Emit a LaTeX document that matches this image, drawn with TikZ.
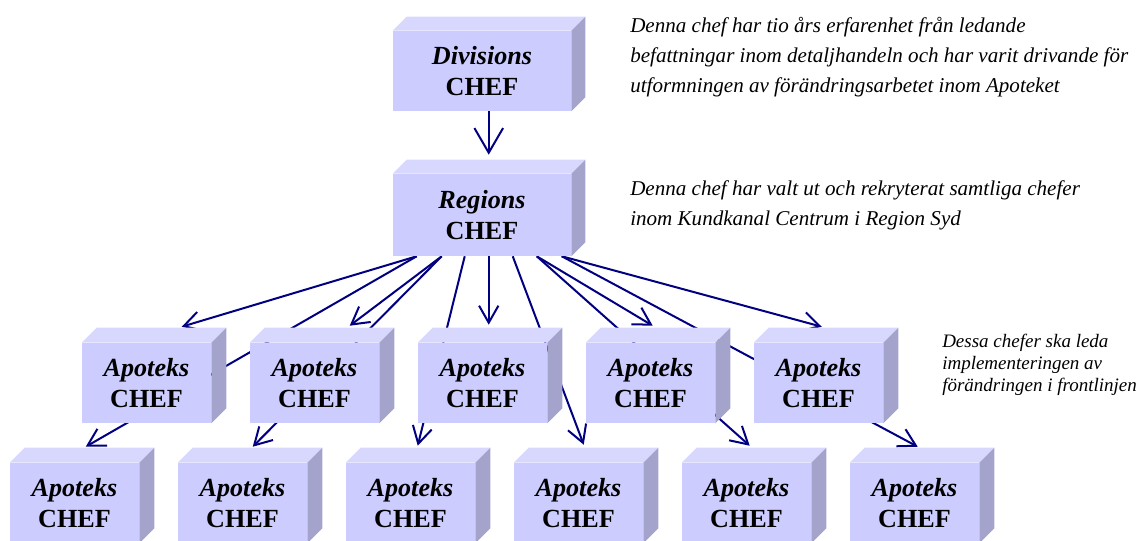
\documentclass[tikz,border=0pt]{standalone}
\usepackage{fontspec}
\setmainfont{Liberation Serif}
\usetikzlibrary{arrows.meta,calc,backgrounds}
\definecolor{frontc}{RGB}{204,204,255}
\definecolor{topc}{RGB}{216,216,255}
\definecolor{sidec}{RGB}{163,163,204}
\definecolor{navyc}{RGB}{0,0,128}
\begin{document}
\begin{tikzpicture}[x=0.75pt,y=-0.75pt,
  cube/.style={fill=frontc, inner sep=0pt, align=center, font=\fontsize{19.6}{23.25}\selectfont\bfseries},
  bigcube/.style={cube, minimum width=133.5pt, minimum height=60pt},
  smallcube/.style={cube, minimum width=96.75pt, minimum height=60pt},
  conn/.style={draw=navyc, line width=1.5pt, -{Straight Barb[length=12.75pt,width=14.5pt]}},
  bigconn/.style={draw=navyc, line width=1.5pt, -{Straight Barb[length=18.5pt,width=21.5pt]}},
  note/.style={anchor=base west, align=left, inner sep=0pt, font=\itshape\fontsize{15.8}{22.5}\selectfont},
  smallnote/.style={anchor=base west, align=left, inner sep=0pt, font=\itshape\fontsize{14.25}{16.5}\selectfont},
]
\useasboundingbox (0,0) rectangle (1143,541);
\clip (0,0) rectangle (1143,541);

% boxes (front faces)
\node[bigcube] (div) at (482,71) {\textit{Divisions}\\CHEF};
\node[bigcube, minimum height=61.5pt] (reg) at (482,215) {\textit{Regions}\\CHEF};
\foreach \i/\x in {1/146.5, 2/314.5, 3/482.5, 4/650.5, 5/818.5}
  \node[smallcube] (b\i) at (\x,383) {\textit{Apoteks}\\CHEF};
\foreach \i/\x in {1/74.5, 2/242.5, 3/410.5, 4/578.5, 5/746.5, 6/914.5}
  \node[smallcube] (c\i) at (\x,503) {\textit{Apoteks}\\CHEF};

% top and side faces
\foreach \n/\dd in {div/14, reg/14, b1/15, b2/15, b3/15, b4/15, b5/15, c1/15, c2/15, c3/15, c4/15, c5/15, c6/15} {
  \fill[topc] (\n.north west) -- ++(\dd,-\dd) -- ($(\n.north east)+(\dd,-\dd)$) -- (\n.north east) -- cycle;
  \fill[sidec] (\n.north east) -- ++(\dd,-\dd) -- ($(\n.south east)+(\dd,-\dd)$) -- (\n.south east) -- cycle;
}

% connectors, behind the boxes
\begin{pgfonlayer}{background}
  \draw[bigconn] ($(div.south west)+(96,0)$) -- ($(reg.north west)+(96,-19)$);
  \draw[conn] ($(reg.south west)+(24,0)$) -- ($(b1.north west)+(100,-16)$);
  \draw[conn] ($(reg.south west)+(24,0)$) -- ($(c1.north west)+(76,-16)$);
  \draw[conn] ($(reg.south west)+(49,0)$) -- ($(b2.north west)+(100,-17)$);
  \draw[conn] ($(reg.south west)+(49,0)$) -- ($(c2.north west)+(75,-16)$);
  \draw[conn] ($(reg.south west)+(72,0)$) -- ($(c3.north west)+(72,-17)$);
  \draw[conn] ($(reg.south west)+(96,0)$) -- ($(b3.north west)+(71,-18)$);
  \draw[conn] ($(reg.south west)+(120,0)$) -- ($(c4.north west)+(70,-18)$);
  \draw[conn] ($(reg.south west)+(144,0)$) -- ($(b4.north west)+(67,-17)$);
  \draw[conn] ($(reg.south west)+(144,0)$) -- ($(c5.north west)+(68,-17)$);
  \draw[conn] ($(reg.south west)+(169,0)$) -- ($(b5.north west)+(68,-16)$);
  \draw[conn] ($(reg.south west)+(169,0)$) -- ($(c6.north west)+(68,-16)$);
\end{pgfonlayer}

% notes (anchored at the baseline of their last line)
\node[note] (n1) at (630,93) {Denna chef har tio års erfarenhet från ledande\\befattningar inom detaljhandeln och har varit drivande för\\utformningen av förändringsarbetet inom Apoteket};
\node[note] (n2) at (630,226) {Denna chef har valt ut och rekryterat samtliga chefer\\inom Kundkanal Centrum i Region Syd};
\node[smallnote] (n3) at (942,392) {Dessa chefer ska leda\\implementeringen av\\förändringen i frontlinjen};
\end{tikzpicture}
\end{document}
